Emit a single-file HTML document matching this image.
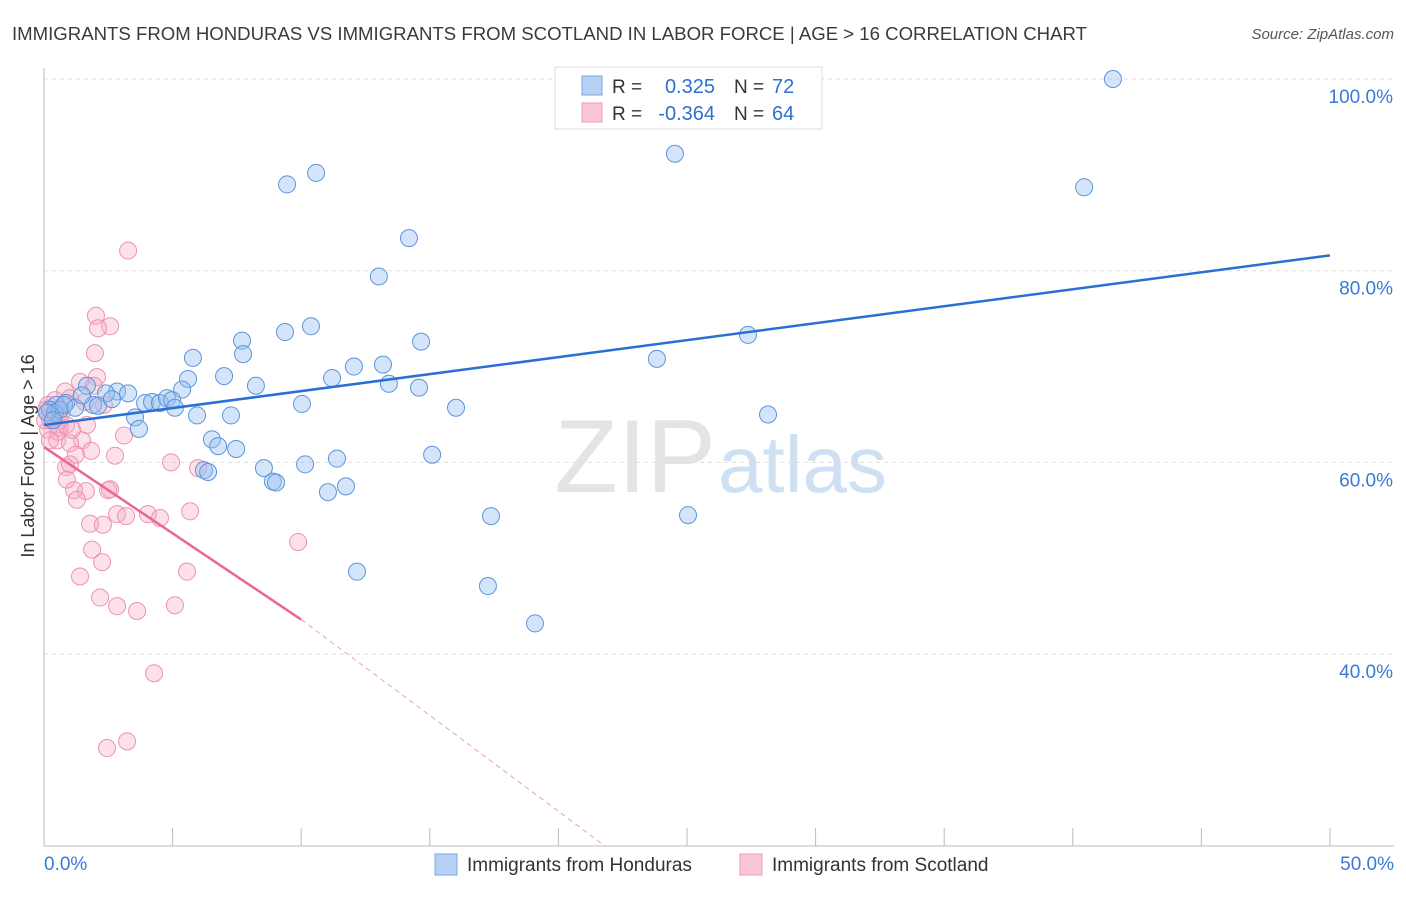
<!DOCTYPE html>
<html><head><meta charset="utf-8"><style>
body{margin:0;background:#fff;font-family:"Liberation Sans",sans-serif;}
svg text{font-family:"Liberation Sans",sans-serif;}
</style></head><body>
<svg id="chart" width="1406" height="892" xmlns="http://www.w3.org/2000/svg">
<text x="12" y="40" font-size="18.6" fill="#3a3a3a">IMMIGRANTS FROM HONDURAS VS IMMIGRANTS FROM SCOTLAND IN LABOR FORCE | AGE &gt; 16 CORRELATION CHART</text>
<text x="1394" y="39" font-size="15" fill="#555" text-anchor="end" font-style="italic">Source: ZipAtlas.com</text>
<text x="716" y="492" font-size="104" fill="#e4e4e4" text-anchor="end" font-family="Liberation Serif">ZIP</text>
<text x="718" y="492" font-size="80" fill="#cfe0f3">atlas</text>
<g id="grid"></g><g id="axes"></g><g id="pink"></g><g id="blue"></g><g id="lines"></g>
<text transform="translate(34,456) rotate(-90)" font-size="18" fill="#333" text-anchor="middle">In Labor Force | Age &gt; 16</text>
<g>
<rect x="555" y="67" width="267" height="62" fill="#fff" stroke="#ddd"/>
<rect x="582" y="76" width="20" height="19" fill="#b5d0f3" stroke="#7aa7e0"/>
<rect x="582" y="103" width="20" height="19" fill="#fbc7d6" stroke="#ee9ab4"/>
<text x="612" y="93" font-size="19" fill="#333">R =</text><text x="715" y="93" font-size="20" fill="#2f6fd2" text-anchor="end">0.325</text>
<text x="734" y="93" font-size="19" fill="#333">N =</text><text x="772" y="93" font-size="20" fill="#2f6fd2">72</text>
<text x="612" y="120" font-size="19" fill="#333">R =</text><text x="715" y="120" font-size="20" fill="#2f6fd2" text-anchor="end">-0.364</text>
<text x="734" y="120" font-size="19" fill="#333">N =</text><text x="772" y="120" font-size="20" fill="#2f6fd2">64</text>
</g>
<g>
<rect x="435" y="854" width="22" height="21" fill="#b5d0f3" stroke="#7aa7e0"/>
<text x="467" y="871" font-size="19" fill="#333">Immigrants from Honduras</text>
<rect x="740" y="854" width="22" height="21" fill="#fbc7d6" stroke="#ee9ab4"/>
<text x="772" y="871" font-size="19" fill="#333">Immigrants from Scotland</text>
</g>
</svg>
<script>
const yTicks=[40,60,80,100];
const xTickLabels=["0.0%","50.0%"];
const blueX=[41.56,24.53,40.44,10.58,9.45,14.19,13.02,10.38,9.37,7.70,14.66,7.74,5.79,13.18,12.05,23.83,27.37,7.0,5.6,11.2,13.41,14.58,8.24,5.37,1.67,2.84,2.41,3.27,0.47,0.86,1.91,2.10,2.64,3.93,4.2,4.51,4.78,4.98,5.09,3.54,5.95,7.27,3.69,10.03,16.02,28.15,6.53,6.77,7.47,6.22,6.38,8.55,10.15,11.39,15.09,8.9,9.02,11.04,11.74,17.38,25.04,12.17,17.26,19.09,0.23,0.43,0.62,0.12,0.35,0.78,1.21,1.48];
const blueY=[100,92.2,88.7,90.2,89.0,83.4,79.4,74.2,73.6,72.7,72.6,71.3,70.9,70.2,70.0,70.8,73.3,69.0,68.7,68.8,68.2,67.8,68.0,67.6,68.0,67.4,67.2,67.2,66.0,66.2,66.0,65.9,66.6,66.2,66.3,66.2,66.7,66.5,65.7,64.7,64.9,64.9,63.5,66.1,65.7,65.0,62.4,61.7,61.4,59.2,59.0,59.4,59.8,60.4,60.8,58.0,57.9,56.9,57.5,54.4,54.5,48.6,47.1,43.2,65.5,65.2,65.5,65.2,64.4,66.0,65.7,67.0];
const pinkX=[3.27,2.02,2.57,2.1,1.98,2.06,1.40,0.82,1.94,2.33,1.01,1.59,3.11,1.67,0.62,0.23,0.16,0.51,1.48,1.01,1.83,1.24,2.76,4.94,5.99,0.86,1.01,0.89,1.63,1.17,1.28,2.57,2.49,4.04,4.51,5.68,2.84,3.19,1.79,2.29,1.87,2.26,1.40,5.56,9.88,2.18,2.84,3.62,5.09,4.28,2.45,3.23,0.47,0.31,0.62,0.16,0.08,0.43,0.7,0.54,0.86,0.23,1.09,0.04];
const pinkY=[82.1,75.3,74.2,74.0,71.4,68.9,68.4,67.4,68.0,66.0,66.7,66.3,62.8,63.9,63.6,64.4,63.4,62.3,62.3,62.0,61.2,60.8,60.7,60.0,59.4,59.5,59.8,58.2,57.0,57.1,56.1,57.2,57.1,54.6,54.2,54.9,54.6,54.4,53.6,53.5,50.9,49.6,48.1,48.6,51.7,45.9,45.0,44.5,45.1,38.0,30.2,30.9,65.5,64.9,64.4,66.0,65.5,66.5,65.3,63.2,63.9,62.3,63.4,64.4];
const blueTrend=[63.9,81.6];   // value at x=0 and x=50
const pinkTrend=[61.6,43.6];   // value at x=0 and x=10 (solid end)
const X=v=>44+v*25.72, Y=v=>79+(100-v)*9.585;
const NS="http://www.w3.org/2000/svg";
function mk(tag,attrs,parent){const e=document.createElementNS(NS,tag);for(const k in attrs)e.setAttribute(k,attrs[k]);document.getElementById(parent).appendChild(e);return e;}
yTicks.forEach(t=>{
 const l=mk('line',{x1:44,x2:1394,y1:Y(t),y2:Y(t),stroke:'#ddd','stroke-dasharray':'4,4'},'grid');
 
 
 const tx=mk('text',{x:1393,y:Y(t)+24,'font-size':19,fill:'#3b78d6','text-anchor':'end'},'grid');
 tx.textContent=t.toFixed(1)+'%';
 
 
});
const ax=mk('line',{x1:44,x2:44,y1:68,y2:846,stroke:'#bbb'},'axes');


const bx=mk('line',{x1:44,x2:1394,y1:846,y2:846,stroke:'#bbb'},'axes');


for(let i=0;i<=10;i++){const t=mk('line',{x1:X(i*5),x2:X(i*5),y1:828,y2:846,stroke:'#bbb'},'axes');
 
 }
[[0,'start',44],[50,'end',1394]].forEach((d,i)=>{const t=mk('text',{x:d[2],y:870,'font-size':19,fill:'#3b78d6','text-anchor':d[1]},'axes');t.textContent=xTickLabels[i];
 
 });
pinkX.forEach((v,i)=>{const c=mk('circle',{cx:X(v),cy:Y(pinkY[i]),r:8.5,fill:'rgba(246,170,195,0.35)',stroke:'#ec93b0','stroke-width':1},'pink');
 
 });
blueX.forEach((v,i)=>{const c=mk('circle',{cx:X(v),cy:Y(blueY[i]),r:8.5,fill:'rgba(150,190,240,0.4)',stroke:'#5a95dd','stroke-width':1},'blue');
 
 });
const bl=mk('line',{x1:X(0),y1:Y(blueTrend[0]),x2:X(50),y2:Y(blueTrend[1]),stroke:'#2a6fd6','stroke-width':2.5},'lines');


const pl=mk('line',{x1:X(0),y1:Y(pinkTrend[0]),x2:X(10),y2:Y(pinkTrend[1]),stroke:'#e8669a','stroke-width':2.5},'lines');


const pd=mk('line',{x1:X(10),y1:Y(pinkTrend[1]),x2:X(21.8),y2:Y(20),stroke:'#eaa0bb','stroke-width':1,'stroke-dasharray':'5,4'},'lines');


</script>
</body></html>
